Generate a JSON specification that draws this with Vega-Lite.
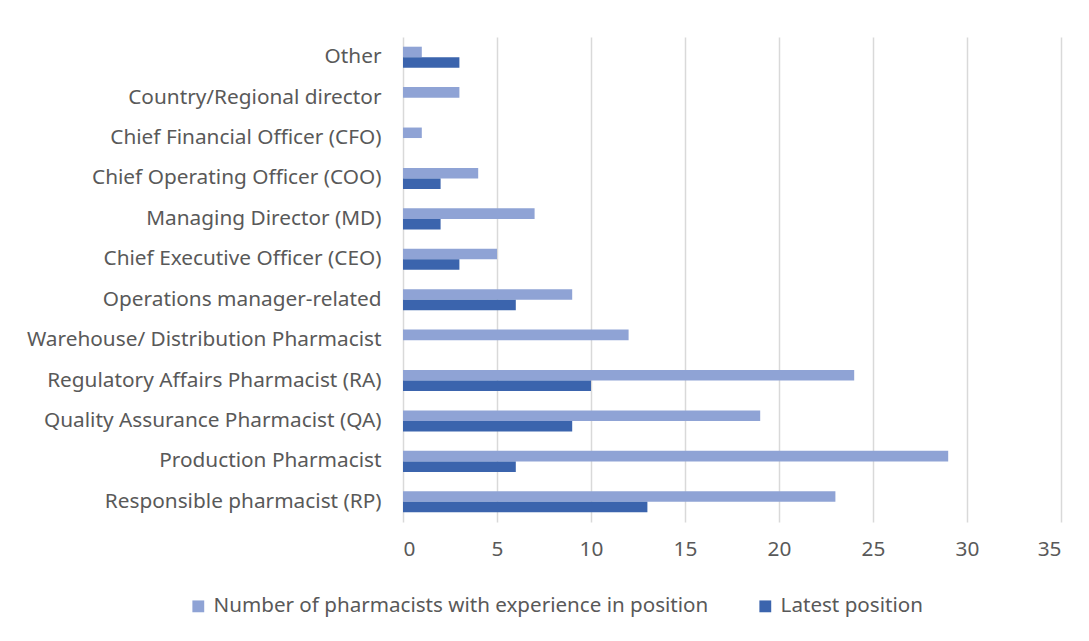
{
  "$schema": "https://vega.github.io/schema/vega-lite/v6.json",
  "width": 658,
  "height": 485,
  "autosize": {"type": "none"},
  "padding": {"left": 403, "top": 37, "right": 28, "bottom": 119},
  "background": "white",
  "config": {
    "view": {"stroke": null},
    "font": "Noto Sans"
  },
  "data": {
    "values": [
      {"position": "Responsible pharmacist (RP)", "series": "Number of pharmacists with experience in position", "value": 23},
      {"position": "Responsible pharmacist (RP)", "series": "Latest position", "value": 13},
      {"position": "Production Pharmacist", "series": "Number of pharmacists with experience in position", "value": 29},
      {"position": "Production Pharmacist", "series": "Latest position", "value": 6},
      {"position": "Quality Assurance Pharmacist (QA)", "series": "Number of pharmacists with experience in position", "value": 19},
      {"position": "Quality Assurance Pharmacist (QA)", "series": "Latest position", "value": 9},
      {"position": "Regulatory Affairs Pharmacist (RA)", "series": "Number of pharmacists with experience in position", "value": 24},
      {"position": "Regulatory Affairs Pharmacist (RA)", "series": "Latest position", "value": 10},
      {"position": "Warehouse/ Distribution Pharmacist", "series": "Number of pharmacists with experience in position", "value": 12},
      {"position": "Warehouse/ Distribution Pharmacist", "series": "Latest position", "value": 0},
      {"position": "Operations manager-related", "series": "Number of pharmacists with experience in position", "value": 9},
      {"position": "Operations manager-related", "series": "Latest position", "value": 6},
      {"position": "Chief Executive Officer (CEO)", "series": "Number of pharmacists with experience in position", "value": 5},
      {"position": "Chief Executive Officer (CEO)", "series": "Latest position", "value": 3},
      {"position": "Managing Director (MD)", "series": "Number of pharmacists with experience in position", "value": 7},
      {"position": "Managing Director (MD)", "series": "Latest position", "value": 2},
      {"position": "Chief Operating Officer (COO)", "series": "Number of pharmacists with experience in position", "value": 4},
      {"position": "Chief Operating Officer (COO)", "series": "Latest position", "value": 2},
      {"position": "Chief Financial Officer (CFO)", "series": "Number of pharmacists with experience in position", "value": 1},
      {"position": "Chief Financial Officer (CFO)", "series": "Latest position", "value": 0},
      {"position": "Country/Regional director", "series": "Number of pharmacists with experience in position", "value": 3},
      {"position": "Country/Regional director", "series": "Latest position", "value": 0},
      {"position": "Other", "series": "Number of pharmacists with experience in position", "value": 1},
      {"position": "Other", "series": "Latest position", "value": 3}
    ]
  },
  "mark": {"type": "bar"},
  "encoding": {
    "y": {
      "field": "position",
      "type": "nominal",
      "sort": ["Other", "Country/Regional director", "Chief Financial Officer (CFO)", "Chief Operating Officer (COO)", "Managing Director (MD)", "Chief Executive Officer (CEO)", "Operations manager-related", "Warehouse/ Distribution Pharmacist", "Regulatory Affairs Pharmacist (RA)", "Quality Assurance Pharmacist (QA)", "Production Pharmacist", "Responsible pharmacist (RP)"],
      "scale": {"paddingInner": 0.48, "paddingOuter": 0.24},
      "axis": {
        "title": null,
        "domain": false,
        "ticks": false,
        "labelFontSize": 20.8,
        "labelColor": "#595959",
        "labelPadding": 22,
        "labelLimit": 420
      }
    },
    "yOffset": {
      "field": "series",
      "type": "nominal",
      "sort": ["Number of pharmacists with experience in position", "Latest position"],
      "scale": {"paddingInner": 0, "paddingOuter": 0}
    },
    "x": {
      "field": "value",
      "type": "quantitative",
      "scale": {"domain": [0, 35], "nice": false},
      "axis": {
        "title": null,
        "values": [0, 5, 10, 15, 20, 25, 30, 35],
        "domain": false,
        "ticks": false,
        "grid": true,
        "gridColor": "#D9D9D9",
        "gridWidth": 1.5,
        "labelFontSize": 20.8,
        "labelColor": "#595959",
        "labelPadding": 17
      }
    },
    "color": {
      "field": "series",
      "type": "nominal",
      "sort": ["Number of pharmacists with experience in position", "Latest position"],
      "scale": {
        "domain": ["Number of pharmacists with experience in position", "Latest position"],
        "range": ["#8FA3D5", "#3B64AD"]
      },
      "legend": {
        "title": null,
        "orient": "none",
        "direction": "horizontal",
        "legendX": -215,
        "legendY": 559,
        "symbolType": "square",
        "symbolSize": 140,
        "symbolStrokeWidth": 0,
        "labelFontSize": 20.6,
        "labelColor": "#595959",
        "labelLimit": 600,
        "labelOffset": 5,
        "columnPadding": 46,
        "symbolOffset": 0
      }
    }
  }
}
